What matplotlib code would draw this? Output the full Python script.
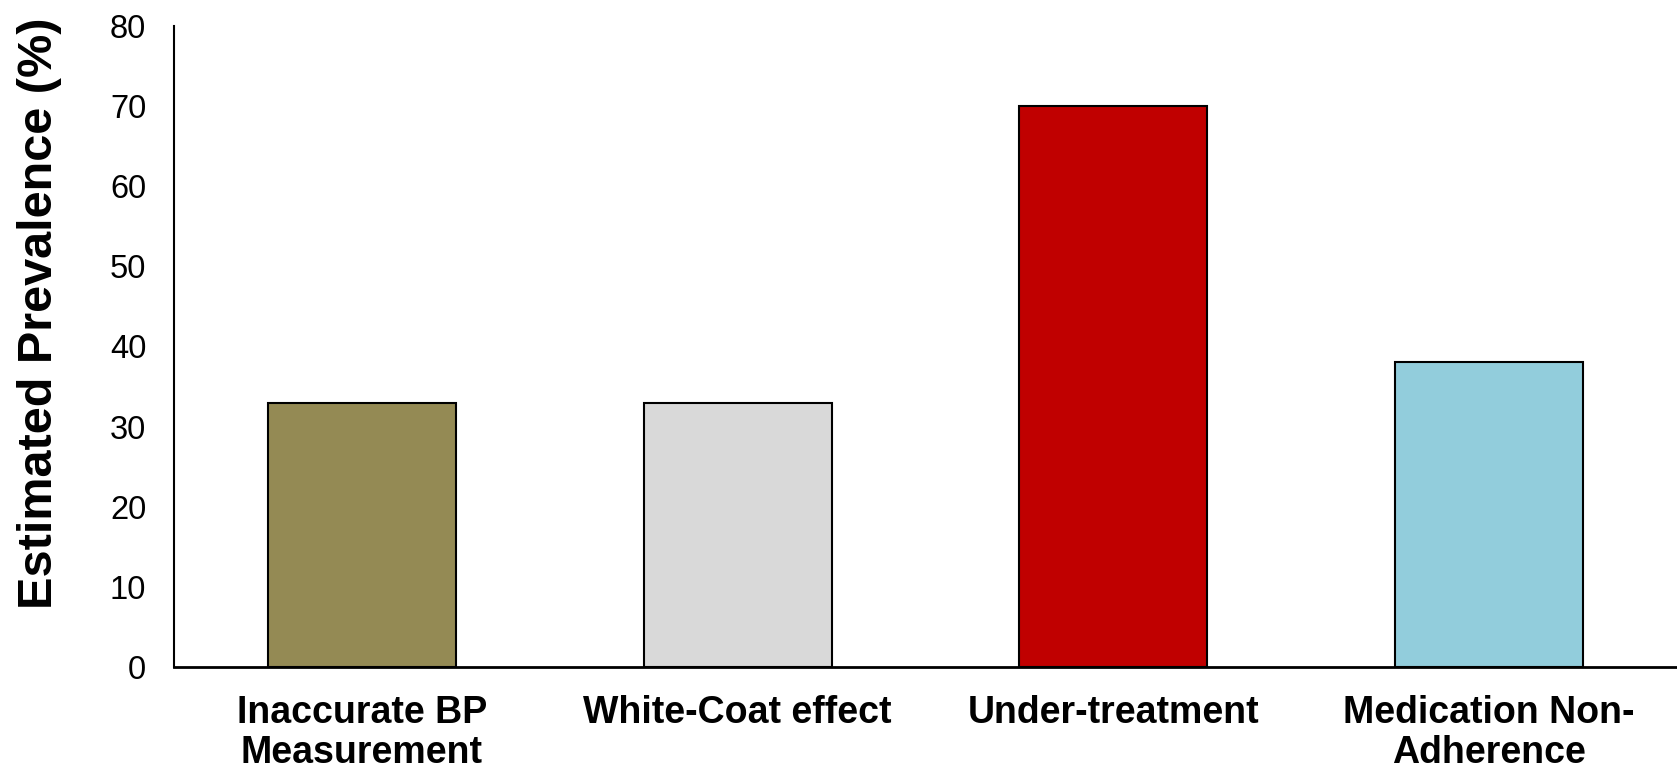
import matplotlib
matplotlib.use("Agg")
import matplotlib.pyplot as plt
import numpy as np

categories = ["Inaccurate BP\nMeasurement", "White-Coat effect",
              "Under-treatment", "Medication Non-\nAdherence"]
prevalence = [33, 33, 70, 38]
bar_colors = ["#948A54", "#D9D9D9", "#C00000", "#92CDDC"]

plt.rcParams['font.family'] = ['Liberation Sans', 'DejaVu Sans']

fig = plt.figure(figsize=(16.77, 7.70), dpi=100)
ax = fig.add_axes([0.1038, 0.1338, 0.8962, 0.8325])

x = np.arange(len(categories))
ax.bar(x, prevalence, width=0.5, color=bar_colors,
       edgecolor='black', linewidth=1.5, zorder=2)

ax.set_xlim(-0.5, len(categories) - 0.5)
ax.set_ylim(0, 80)
ax.set_yticks(np.arange(0, 81, 10))
ax.set_xticks(x)
ax.set_xticklabels(categories, fontsize=27, fontweight='bold', linespacing=1.15)
ax.tick_params(axis='x', length=0, pad=20)
ax.tick_params(axis='y', length=0, pad=20, labelsize=23.5)

ax.set_ylabel("Estimated Prevalence (%)", fontsize=35, fontweight='bold')
ax.yaxis.set_label_coords(-0.0745, 0.552)

for side in ['top', 'right']:
    ax.spines[side].set_visible(False)
ax.spines['left'].set_linewidth(1.5)
ax.spines['bottom'].set_linewidth(2)

fig.savefig("out.png", dpi=100)
